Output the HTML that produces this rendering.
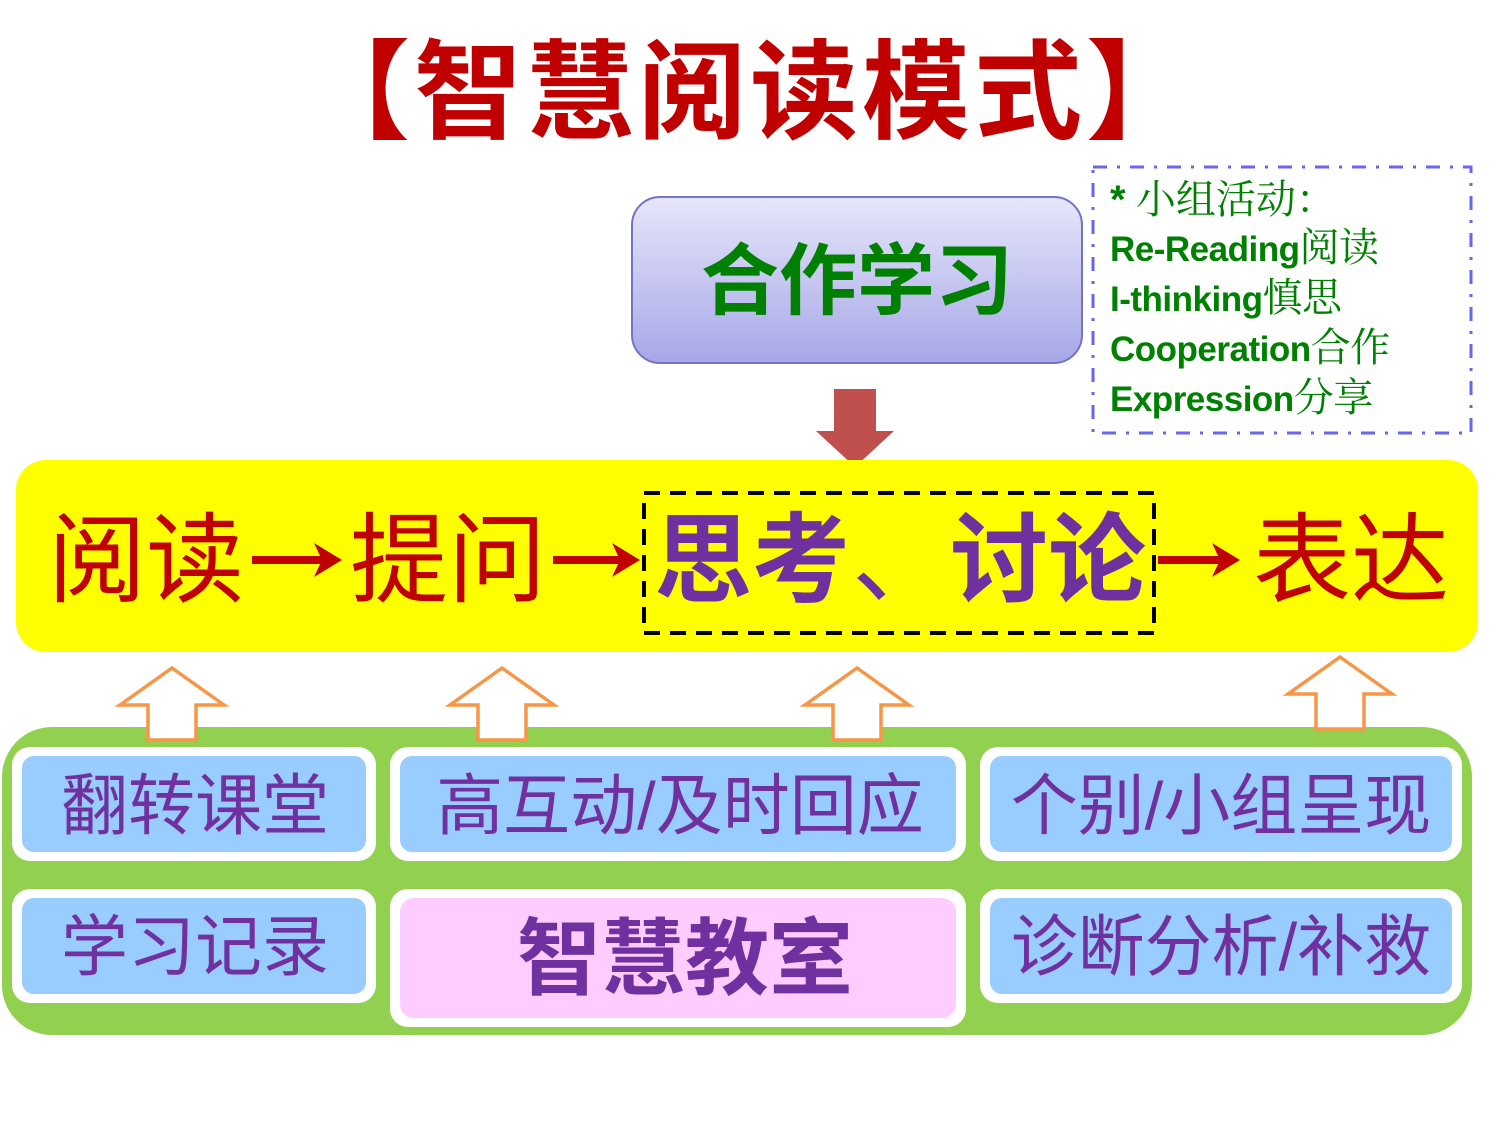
<!DOCTYPE html>
<html><head><meta charset="utf-8"><style>
html,body{margin:0;padding:0;background:#fff;}
svg{display:block;}
text{font-family:"Liberation Sans","Noto Sans CJK SC",sans-serif;}
</style></head><body>
<svg width="1500" height="1125" viewBox="0 0 1500 1125" xmlns="http://www.w3.org/2000/svg">
<defs>
<linearGradient id="g1" x1="0" y1="0" x2="0" y2="1">
<stop offset="0" stop-color="#e6e6fa"/><stop offset="1" stop-color="#a7a7e8"/>
</linearGradient>
</defs>
<!-- title -->
<text x="750" y="130" font-size="108" font-weight="bold" fill="#c00000" text-anchor="middle" letter-spacing="4" font-family="Noto Sans CJK SC, sans-serif">【智慧阅读模式】</text>

<!-- cooperative box -->
<rect x="632" y="197" width="450" height="166" rx="28" fill="url(#g1)" stroke="#7474c4" stroke-width="2"/>
<text x="857" y="308" font-size="78" font-weight="bold" fill="#008000" text-anchor="middle" font-family="Noto Sans CJK SC, sans-serif">合作学习</text>

<!-- dash-dot box -->
<rect x="1093" y="167" width="378" height="266" fill="none" stroke="#6666ee" stroke-width="3" stroke-dasharray="14,10,3,10"/>
<text x="1110" y="213" font-size="40" fill="#008000"><tspan font-weight="bold">*</tspan><tspan font-family="Noto Serif CJK SC, serif"> 小组活动：</tspan></text>
<text x="1110" y="261" font-size="35" fill="#008000" letter-spacing="-0.5"><tspan font-weight="bold">Re-Reading</tspan><tspan font-family="Noto Serif CJK SC, serif" font-size="40">阅读</tspan></text>
<text x="1110" y="311" font-size="35" fill="#008000" letter-spacing="-0.5"><tspan font-weight="bold">I-thinking</tspan><tspan font-family="Noto Serif CJK SC, serif" font-size="40">慎思</tspan></text>
<text x="1110" y="361" font-size="35" fill="#008000" letter-spacing="-0.5"><tspan font-weight="bold">Cooperation</tspan><tspan font-family="Noto Serif CJK SC, serif" font-size="40">合作</tspan></text>
<text x="1110" y="411" font-size="35" fill="#008000" letter-spacing="-0.5"><tspan font-weight="bold">Expression</tspan><tspan font-family="Noto Serif CJK SC, serif" font-size="40">分享</tspan></text>

<!-- red down arrow -->
<path d="M834,389 L876,389 L876,431 L894,431 L855,467 L816,431 L834,431 Z" fill="#c0504d"/>

<!-- yellow band -->
<rect x="16" y="460" width="1462" height="192" rx="30" fill="#ffff00"/>
<rect x="644" y="493" width="510" height="140" fill="none" stroke="#000" stroke-width="4" stroke-dasharray="16,10"/>
<g font-size="98" font-family="Noto Sans CJK SC, sans-serif">
<text x="48" y="594" fill="#c00000">阅读</text>
<text x="350" y="594" fill="#c00000">提问</text>
<text x="654" y="594" fill="#7030a0" font-weight="bold">思考</text>
<text x="852" y="594" fill="#7030a0">、</text>
<text x="950" y="594" fill="#7030a0" font-weight="bold">讨论</text>
<text x="1253" y="594" fill="#c00000">表达</text>
</g>
<g stroke="#c00000" stroke-width="8" fill="none">
<line x1="252" y1="560" x2="326" y2="560"/>
<line x1="553" y1="560" x2="624" y2="560"/>
<line x1="1158" y1="560" x2="1224" y2="560"/>
</g>
<g fill="#c00000">
<path d="M314,543 L342,560 L314,577 L322,560 Z"/>
<path d="M612,543 L640,560 L612,577 L620,560 Z"/>
<path d="M1212,543 L1240,560 L1212,577 L1220,560 Z"/>
</g>

<!-- green container -->
<rect x="2" y="727" width="1470" height="308" rx="50" fill="#92d050"/>

<!-- orange arrows -->
<g fill="#fff" stroke="#f79646" stroke-width="3.5">
<path d="M172,668 L224,705 L196,705 L196,740 L148,740 L148,705 L120,705 Z"/>
<path d="M502,668 L554,705 L526,705 L526,740 L478,740 L478,705 L450,705 Z"/>
<path d="M857,668 L909,705 L881,705 L881,740 L833,740 L833,705 L805,705 Z"/>
<path d="M1340,657 L1392,694 L1364,694 L1364,729 L1316,729 L1316,694 L1288,694 Z"/>
</g>

<!-- cells -->
<g fill="#fff">
<rect x="12" y="747" width="364" height="114" rx="18"/>
<rect x="390" y="747" width="576" height="114" rx="18"/>
<rect x="980" y="747" width="482" height="114" rx="18"/>
<rect x="12" y="889" width="364" height="114" rx="18"/>
<rect x="390" y="889" width="576" height="138" rx="18"/>
<rect x="980" y="889" width="482" height="114" rx="18"/>
</g>
<g fill="#99ccff">
<rect x="22" y="756" width="344" height="96" rx="12"/>
<rect x="400" y="756" width="556" height="96" rx="12"/>
<rect x="990" y="756" width="462" height="96" rx="12"/>
<rect x="22" y="898" width="344" height="96" rx="12"/>
<rect x="990" y="898" width="462" height="96" rx="12"/>
</g>
<rect x="400" y="898" width="556" height="120" rx="14" fill="#ffccff"/>

<g font-size="67" fill="#7030a0" text-anchor="middle" font-family="Noto Sans CJK SC, sans-serif">
<text x="195" y="829">翻转课堂</text>
<text x="680" y="829">高互动/及时回应</text>
<text x="1221" y="829">个别/小组呈现</text>
<text x="195" y="970">学习记录</text>
<text x="1221" y="970">诊断分析/补救</text>
<text x="685" y="988" font-size="84" font-weight="bold">智慧教室</text>
</g>
</svg>
</body></html>
